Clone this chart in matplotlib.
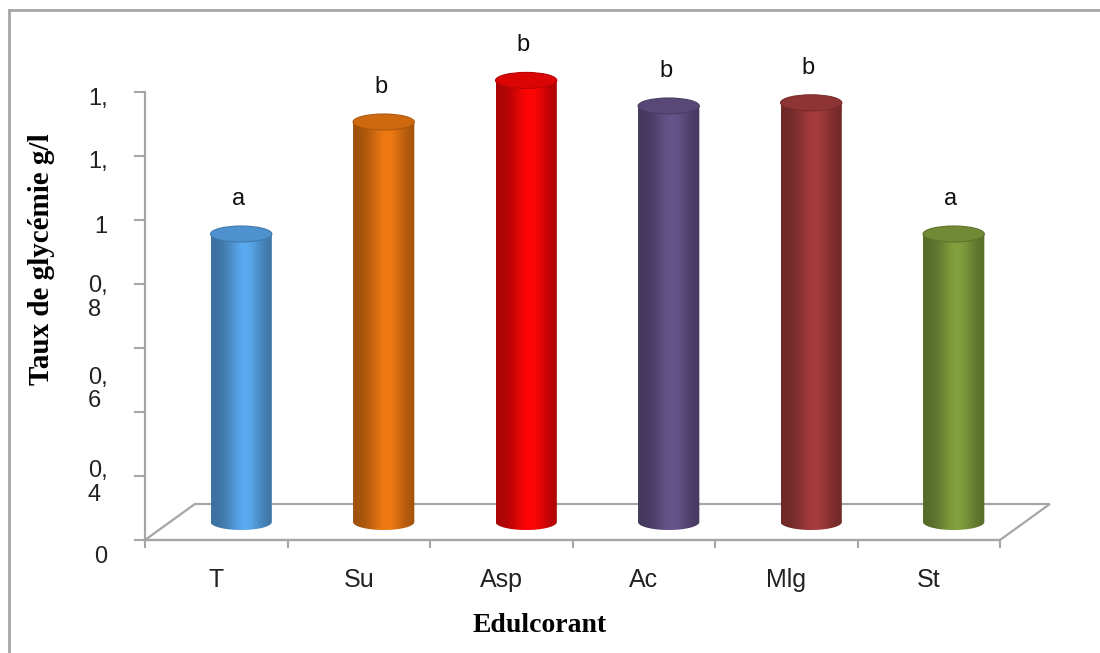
import numpy as np
import matplotlib
matplotlib.use('Agg')
import matplotlib.pyplot as plt
import matplotlib.colors as mcolors
from matplotlib.patches import Ellipse, Polygon
from matplotlib.lines import Line2D

# donnees
categories = ['T', 'Su', 'Asp', 'Ac', 'Mlg', 'St']
glycemie = [0.90, 1.25, 1.38, 1.30, 1.31, 0.90]
lettres = ['a', 'b', 'b', 'b', 'b', 'a']

# graduations de l'axe y (etiquettes tronquees comme dans Excel)
ytick_vals = [0, 0.2, 0.4, 0.6, 0.8, 1.0, 1.2, 1.4]
ytick_txt = ['0', '0,\n4', '0,\n6', '0,\n8', '1', '1,', '1,']
ytick_txt_pos = [-0.045, 0.188, 0.481, 0.766, 0.985, 1.19, 1.385]

couleurs = ['#5aaaf0', '#f07a12', '#ff0606', '#66548a', '#a63c3c', '#82a03e']
gris = '#a6a6a6'

# profondeur du "sol" 3D
DX = 0.35
DY = 0.1125
BW = 0.43   # largeur cylindre
EH = 0.05   # hauteur des ellipses


def cylindre(ax, cx, y0, y1, col):
    base = np.array(mcolors.to_rgb(col))
    theta = np.linspace(np.pi, 2 * np.pi, 60)
    xs = cx + BW / 2 * np.cos(theta)
    ys = y0 + EH / 2 * np.sin(theta)
    verts = [(cx - BW / 2, y1)] + list(zip(xs, ys)) + [(cx + BW / 2, y1)]
    corps = Polygon(verts, closed=True, facecolor='none', edgecolor='none')
    ax.add_patch(corps)
    # degrade horizontal, sombre sur les bords
    t = np.linspace(0, 1, 200)
    f = 0.66 + 0.34 * np.exp(-((t - 0.55) / 0.28) ** 2)
    grad = np.clip(base[None, :] * f[:, None], 0, 1)[None, :, :]
    im = ax.imshow(grad, extent=[cx - BW / 2, cx + BW / 2, y0 - EH / 2, y1],
                   aspect='auto', interpolation='bilinear', zorder=3)
    im.set_clip_path(corps)
    haut = Ellipse((cx, y1), BW, EH, facecolor=base * 0.86,
                   edgecolor=base * 0.72, lw=0.8, zorder=4)
    ax.add_patch(haut)


fig = plt.figure(figsize=(11, 6.53), dpi=100)
ax = fig.add_axes([145 / 1100, 33 / 653, 855 / 1100, 592 / 653])

# sol
sol = Polygon([(-0.5, 0), (5.5, 0), (5.5 + DX, DY), (-0.5 + DX, DY)], closed=True,
              fill=False, edgecolor=gris, lw=1.6, zorder=1, clip_on=False)
ax.add_patch(sol)

for i in range(len(categories)):
    cx = i + DX / 2
    y0 = DY / 2
    y1 = y0 + glycemie[i]
    cylindre(ax, cx, y0, y1, couleurs[i])
    ax.text(cx - 0.02, y1 + 0.11, lettres[i], ha='center', va='center',
            fontsize=17, family='Liberation Sans', color='#111111', zorder=5)

ax.set_xlim(-0.5, 5.5)
ax.set_ylim(-0.25, 1.6)

ax.spines['top'].set_visible(False)
ax.spines['right'].set_visible(False)
ax.spines['bottom'].set_position(('data', 0))
ax.spines['left'].set_bounds(0, 1.4)
for s in ['left', 'bottom']:
    ax.spines[s].set_color(gris)
    ax.spines[s].set_linewidth(1.6)

# axe y
ax.set_yticks(ytick_vals)
ax.set_yticklabels([])
ax.set_yticks(ytick_txt_pos, minor=True)
ax.set_yticklabels(ytick_txt, minor=True, fontsize=17, family='Liberation Sans',
                   color='#222222', multialignment='left', linespacing=1.1)
ax.tick_params(axis='y', which='major', length=8, width=1.5, color=gris, direction='out')
ax.tick_params(axis='y', which='minor', length=0, pad=27)

# axe x
ax.set_xticks(np.arange(-0.5, 6, 1))
ax.set_xticklabels([])
ax.set_xticks(range(len(categories)), minor=True)
ax.set_xticklabels(categories, minor=True, fontsize=18, family='Liberation Sans',
                   color='#222222')
ax.tick_params(axis='x', which='major', length=6, width=1.5, color=gris, direction='out')
ax.tick_params(axis='x', which='minor', length=0, pad=20)

ax.set_ylabel('Taux de glycémie g/l', family='Liberation Serif', fontweight='bold',
              fontsize=21)
ax.yaxis.set_label_coords(-0.105, 0.61)
ax.set_xlabel('Edulcorant', family='Liberation Serif', fontweight='bold', fontsize=20)
ax.xaxis.set_label_coords(0.461, 0.012)

ax.patch.set_visible(False)

# cadre du graphique
fig.add_artist(Line2D([9 / 1100, 9 / 1100], [0, 1 - 10 / 653], transform=fig.transFigure,
                      color=gris, lw=2))
fig.add_artist(Line2D([9 / 1100, 1], [1 - 10 / 653, 1 - 10 / 653], transform=fig.transFigure,
                      color=gris, lw=2))

fig.savefig('out.png', dpi=100)
